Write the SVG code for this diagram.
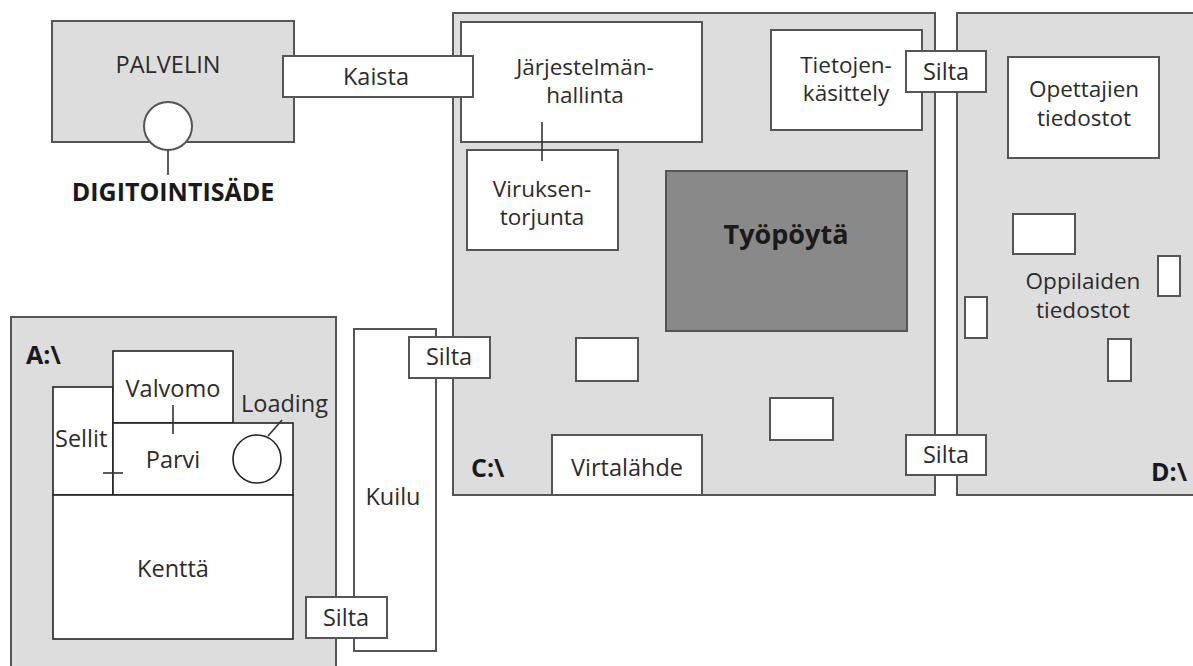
<svg xmlns="http://www.w3.org/2000/svg" width="1193" height="666" viewBox="0 0 1193 666">
<style>
.area{fill:#dddddd;stroke:#555;stroke-width:2}
.box{fill:#ffffff;stroke:#555;stroke-width:2}
.dark{fill:#898989;stroke:#555;stroke-width:2}
.inner{fill:#ffffff;stroke:#222;stroke-width:1.6}
.ln{stroke:#333;stroke-width:1.6;fill:none}
text{font-family:"Open Sans","Liberation Sans",sans-serif;font-size:23.5px;fill:#2b2b2b;text-anchor:middle}
.m{font-size:22.5px}
.b{font-weight:bold;fill:#1a1a1a;font-size:25px}
.l{text-anchor:start}
</style>
<g id="palvelin">
<rect class="area" x="52" y="21" width="242" height="121"/>
<text x="168" y="73">PALVELIN</text>
<circle class="box" cx="168" cy="126" r="24"/>
</g>
<g id="digitointisade"><text class="b" x="173" y="201">DIGITOINTISÄDE</text></g>
<g id="c-drive">
<rect class="area" x="453" y="13" width="482" height="482"/>
<text class="b l" x="471" y="477">C:\</text>
</g>
<g id="d-drive">
<rect class="area" x="957" y="13" width="245" height="482"/>
<text class="b l" x="1151" y="481">D:\</text>
</g>
<g id="a-drive">
<rect class="area" x="11" y="317" width="325" height="360"/>
<text class="b l" x="26" y="364">A:\</text>
</g>
<g id="kuilu">
<rect class="box" x="354" y="329" width="82" height="322"/>
<text x="393" y="505">Kuilu</text>
</g>
<g id="jarjestelmanhallinta">
<rect class="box" x="461" y="22" width="241" height="120"/>
<text class="m" x="585" y="74.5">Järjestelmän-</text>
<text class="m" x="585" y="102.5">hallinta</text>
</g>
<g id="kaista">
<rect class="box" x="283" y="56" width="190" height="41"/>
<text x="376" y="85">Kaista</text>
</g>
<g id="viruksentorjunta">
<rect class="box" x="467" y="150" width="151" height="100"/>
<text class="m" x="542" y="196.5">Viruksen-</text>
<text class="m" x="542" y="224.5">torjunta</text>
</g>
<g id="tietojenkasittely">
<rect class="box" x="771" y="30" width="151" height="100"/>
<text class="m" x="846" y="72.5">Tietojen-</text>
<text class="m" x="846" y="100.5">käsittely</text>
</g>
<g id="tyopoyta">
<rect class="dark" x="666" y="171" width="241" height="160"/>
<text class="b" x="786" y="244" style="font-size:27px">Työpöytä</text>
</g>
<g id="c-slot1"><rect class="box" x="576" y="338" width="62" height="43"/></g>
<g id="c-slot2"><rect class="box" x="770" y="398" width="63" height="42"/></g>
<g id="virtalahde">
<rect class="box" x="552" y="435" width="150" height="60"/>
<text x="627" y="476">Virtalähde</text>
</g>
<g id="opettajien-tiedostot">
<rect class="box" x="1008" y="57" width="151" height="101"/>
<text class="m" x="1084" y="97">Opettajien</text>
<text class="m" x="1084" y="126">tiedostot</text>
</g>
<g id="oppilaiden-tiedostot">
<rect class="box" x="1013" y="214" width="62" height="40"/>
<rect class="box" x="1158" y="256" width="22" height="40"/>
<rect class="box" x="965" y="297" width="22" height="41"/>
<rect class="box" x="1108" y="339" width="23" height="42"/>
<text class="m" x="1083" y="288.5">Oppilaiden</text>
<text class="m" x="1083" y="317.5">tiedostot</text>
</g>
<g id="silta-cd-top">
<rect class="box" x="906" y="51" width="80" height="41"/>
<text x="946" y="80">Silta</text>
</g>
<g id="silta-cd-bottom">
<rect class="box" x="906" y="435" width="80" height="40"/>
<text x="946" y="463">Silta</text>
</g>
<g id="silta-kuilu-c">
<rect class="box" x="409" y="337" width="81" height="41"/>
<text x="449" y="365">Silta</text>
</g>
<g id="silta-a-kuilu">
<rect class="box" x="306" y="597" width="81" height="41"/>
<text x="346" y="626">Silta</text>
</g>
<g id="sellit">
<rect class="inner" x="53" y="387" width="60" height="108"/>
<text class="l" x="55" y="447">Sellit</text>
</g>
<g id="valvomo">
<rect class="inner" x="113" y="351" width="120" height="72"/>
<text x="173" y="397">Valvomo</text>
</g>
<g id="parvi">
<rect class="inner" x="113" y="423" width="180" height="72"/>
<text x="173" y="468">Parvi</text>
<circle class="inner" cx="257" cy="459" r="24"/>
</g>
<g id="loading"><text class="l" x="241" y="412">Loading</text></g>
<g id="kentta">
<rect class="inner" x="53" y="495" width="240" height="144"/>
<text x="173" y="577">Kenttä</text>
</g>
<g id="connectors">
<line class="ln" x1="168" y1="150" x2="168" y2="175"/>
<line class="ln" x1="542" y1="122" x2="542" y2="161"/>
<line class="ln" x1="173" y1="405" x2="173" y2="434"/>
<line class="ln" x1="103" y1="473" x2="123" y2="473"/>
<line class="ln" x1="268" y1="436" x2="282" y2="420"/>
</g>
</svg>
